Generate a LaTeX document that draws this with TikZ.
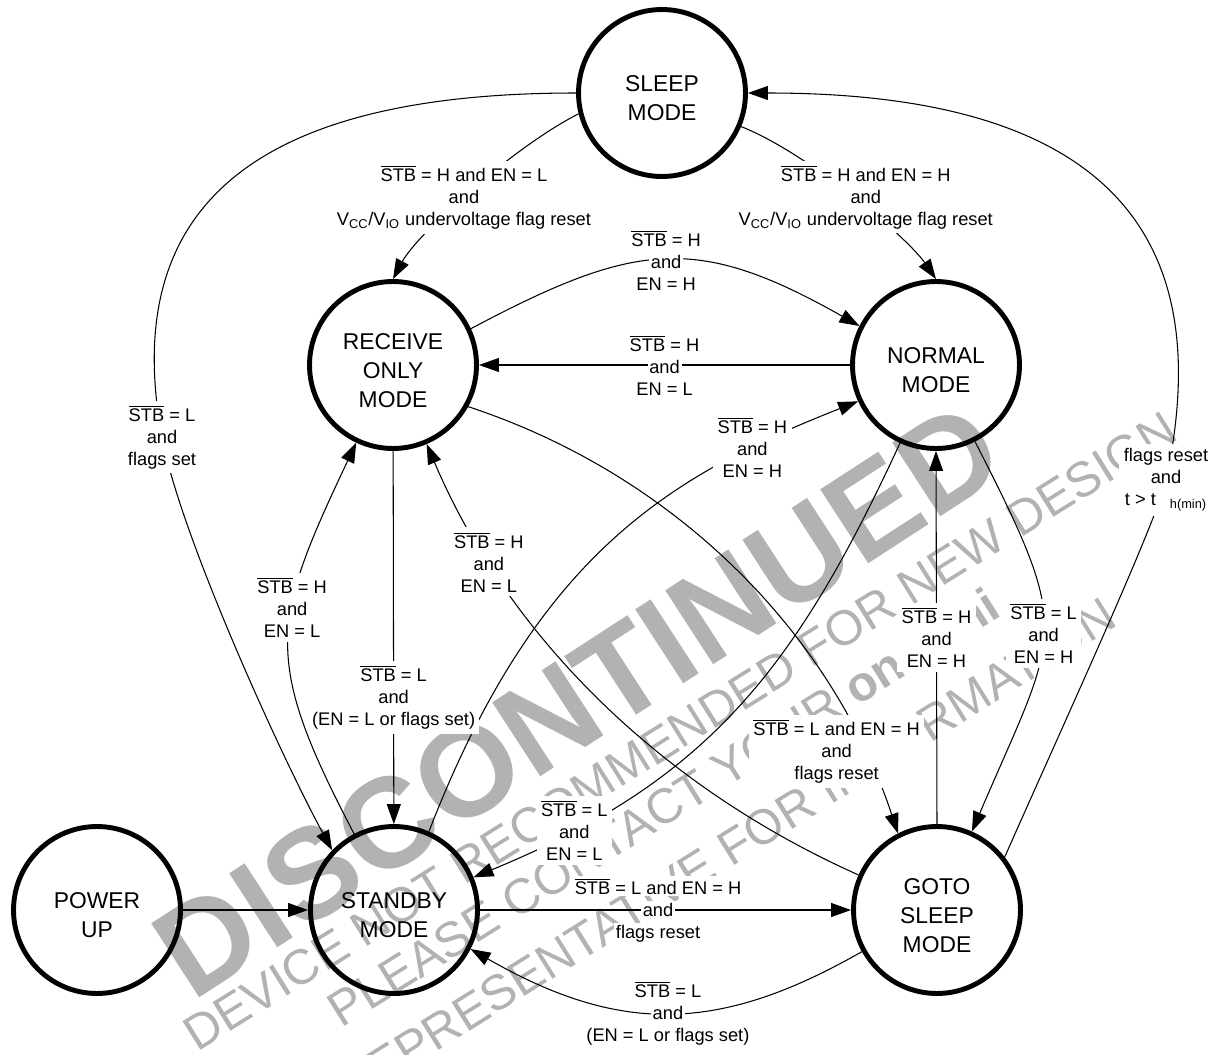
\documentclass[tikz,border=0pt]{standalone}
\usepackage{fontspec}
\setmainfont{Liberation Sans}
\usetikzlibrary{arrows.meta,calc}
\tikzset{
    state/.style = {draw, circle, line width=2.8pt,
        minimum size=3.34cm, inner sep=0pt, align=center,
        font=\fontsize{13}{16.5}\selectfont},
    trans/.style = {draw, line width=0.6pt,
        -{Triangle[length=0.4cm,width=0.28cm]}},
    cond/.style = {fill=white, align=center, inner sep=2.5pt,
        font=\fontsize{10.4}{12.5}\selectfont},
    midcond/.style = {align=center, inner sep=0pt,
        font=\fontsize{10.4}{12.5}\selectfont},
    wbig/.style = {text=black!30, rotate=33, inner sep=0pt,
        font=\fontsize{73}{73}\selectfont\bfseries},
    wsmall/.style = {text=black!30, rotate=32, inner sep=0pt,
        font=\fontsize{28}{28}\selectfont}
}
\newcommand{\stb}{$\overline{\mbox{STB}}$}
\newcommand{\wbx}[1]{{\fboxsep=1pt\colorbox{white}{#1}}}
\newcommand{\toppad}{\rule{0pt}{15pt}}

\begin{document}
\begin{tikzpicture}[x=0.02cm, y=-0.02cm]
    \useasboundingbox (0,0) rectangle (1215,1055);
    \clip (0,0) rectangle (1215,1055);
    \node[wbig] (wm) at (578,700) {DISCONTINUED};
    \node[wsmall] (wma) at (680,731) {DEVICE NOT RECOMMENDED FOR NEW DESIGN};
    \node[wsmall] (wmb) at (663,807) {PLEASE CONTACT YOUR \textbf{onsemi}};
    \node[wsmall] (wmc) at (726,851) {REPRESENTATIVE FOR INFORMATION};

    \node[state] (sleep) at (662,93) {\toppad SLEEP\\MODE};
    \node[state] (recv) at (393,365) {\toppad RECEIVE\\ONLY\\MODE};
    \node[state] (normal) at (936,365) {\toppad NORMAL\\MODE};
    \node[state] (power) at (97,910) {\toppad POWER\\UP};
    \node[state] (standby) at (394,910) {\toppad STANDBY\\MODE};
    \node[state] (gotosleep) at (937,910) {\toppad GOTO\\SLEEP\\MODE};

    \draw[trans] (power) -- (standby);
    \draw[trans] (standby) -- node[midcond,pos=0.48] {\wbx{\stb{} = L and EN = H}\\\wbx{and}\\\wbx{flags reset}} (gotosleep);
    \draw[trans] (gotosleep.209) .. controls (718,1034) and (619,1034) .. node[midcond,pos=0.5] {\wbx{\stb{} = L}\\\wbx{and}\\\wbx{(EN = L or flags set)}} (standby.333);
    \draw[trans] (gotosleep.north) -- node[cond,pos=0.5] {\stb{} = H\\and\\EN = H} (normal.south);
    \draw[trans] (normal.297) .. controls (1075,637) and (1059,628) .. node[cond,pos=0.5] {\stb{} = L\\and\\EN = H} (gotosleep.66);
    \draw[trans] (gotosleep.38) .. controls (1054,745) and (1158,519) .. (1166,480)
        node[cond] {flags reset\\and\\t > t\hspace{8pt}\textsubscript{h(min)}}
        .. controls (1227,197) and (1059,93) .. (sleep.east);
    \draw[trans] (sleep.194) .. controls (513,147) and (417,234) .. node[cond,pos=0.53] {\stb{} = H and EN = L\\and\\V\textsubscript{CC}/V\textsubscript{IO} undervoltage flag reset} (recv.north);
    \draw[trans] (sleep.337) .. controls (808,153) and (907,237) .. node[cond,pos=0.5,xshift=0.26cm] {\stb{} = H and EN = H\\and\\V\textsubscript{CC}/V\textsubscript{IO} undervoltage flag reset} (normal.north);
    \draw[trans] (recv.25) .. controls (636,241) and (697,234) .. node[midcond,pos=0.5] {\wbx{\stb{} = H}\\\wbx{and}\\\wbx{EN = H}} (normal.153);
    \draw[trans] (normal) -- node[midcond,pos=0.5] {\wbx{\stb{} = H}\\\wbx{and}\\\wbx{EN = L}} (recv);
    \draw[trans] (standby.66) .. controls (537,552) and (672,475) .. node[cond,pos=0.8] {\stb{} = H\\and\\EN = H} (normal.205);
    \draw[trans] (normal) .. controls (794,673) and (705,782) .. node[cond,pos=0.84] {\stb{} = L\\and\\EN = L} (standby);
    \draw[trans] (recv.331) .. controls (673,474) and (831,631) .. node[cond,pos=0.86,xshift=-0.56cm] {\stb{} = L and EN = H\\and\\flags reset} (gotosleep.117);
    \draw[trans] (gotosleep) .. controls (666,789) and (511,642) .. node[cond,pos=0.79] {\stb{} = H\\and\\EN = L} (recv);
    \draw[trans] (standby) .. controls (262,658) and (271,623) .. node[cond,pos=0.6] {\stb{} = H\\and\\EN = L} (recv);
    \draw[trans] (recv) -- node[cond,pos=0.66] {\stb{} = L\\and\\(EN = L or flags set)} (standby);
    \draw[trans] (sleep.west) .. controls (277,93) and (116,191) .. (162,437)
        node[cond] {\stb{} = L\\and\\flags set}
        .. controls (180,535) and (282,758) .. (standby.136);
\end{tikzpicture}
\end{document}
